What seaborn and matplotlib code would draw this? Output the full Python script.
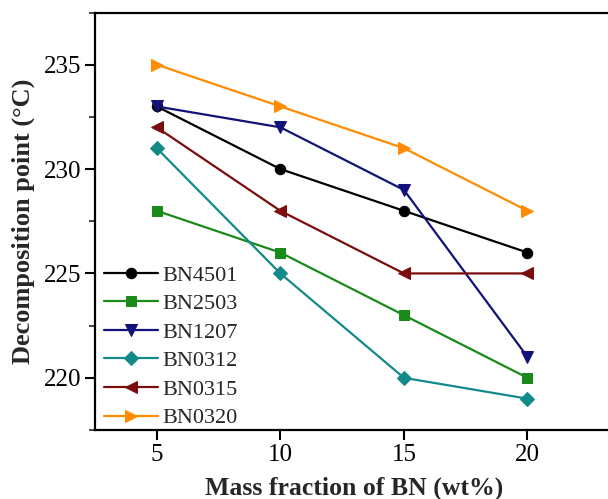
import matplotlib
matplotlib.use("Agg")
import matplotlib.pyplot as plt
import seaborn as sns
import pandas as pd
from matplotlib.ticker import MultipleLocator

x_vals = [5, 10, 15, 20]
series_names = ["BN4501", "BN2503", "BN1207", "BN0312", "BN0315", "BN0320"]
bn4501 = [233, 230, 228, 226]
bn2503 = [228, 226, 223, 220]
bn1207 = [233, 232, 229, 221]
bn0312 = [231, 225, 220, 219]
bn0315 = [232, 228, 225, 225]
bn0320 = [235, 233, 231, 228]
all_values = [bn4501, bn2503, bn1207, bn0312, bn0315, bn0320]

colors = ["#000000", "#1a8a1a", "#12127a", "#138a8a", "#7a0c0c", "#ff8c00"]
markers = ["o", "s", "v", "D", "<", ">"]
msizes = [7.5, 7.5, 8.5, 7, 8.5, 8.5]

rows = []
for name, vals in zip(series_names, all_values):
    for xv, yv in zip(x_vals, vals):
        rows.append({"x": xv, "y": yv, "series": name})
df = pd.DataFrame(rows)

sns.set_style("ticks")
plt.rcParams["font.family"] = ["Liberation Serif", "DejaVu Serif"]

fig = plt.figure(figsize=(6.08, 4.99), dpi=100)
ax = fig.add_axes([95/608, 1 - 430/499, 519/608, (430 - 12.5)/499])

for name, c, m, ms in zip(series_names, colors, markers, msizes):
    sub = df[df["series"] == name]
    sns.lineplot(data=sub, x="x", y="y", ax=ax, color=c, marker=m,
                 markersize=ms, markeredgecolor=c, linewidth=1.6,
                 label=name, clip_on=False)

ax.set_xlim(2.5, 23.5)
ax.set_ylim(217.5, 237.5)
ax.set_xticks(x_vals)
ax.set_yticks([220, 225, 230, 235])
ax.yaxis.set_minor_locator(MultipleLocator(2.5))
ax.tick_params(axis="both", which="major", labelsize=18, direction="out",
               length=7, width=1.5, colors="#000000", pad=3)
ax.tick_params(axis="y", which="minor", direction="out", length=4, width=1.2)
for side in ["left", "bottom", "top", "right"]:
    ax.spines[side].set_linewidth(1.6)
    ax.spines[side].set_color("#000000")

ax.set_xlabel("Mass fraction of BN (wt%)", fontsize=18.5, fontweight="bold", labelpad=8)
ax.set_ylabel("Decomposition point (°C)", fontsize=19, fontweight="bold", labelpad=6)

leg = ax.legend(loc="lower left", frameon=False, fontsize=16, handlelength=2.4,
                handletextpad=0.2, labelspacing=0.36, borderaxespad=0.0,
                borderpad=0.3, bbox_to_anchor=(0.005, -0.012))

fig.savefig("out.png", dpi=100)
